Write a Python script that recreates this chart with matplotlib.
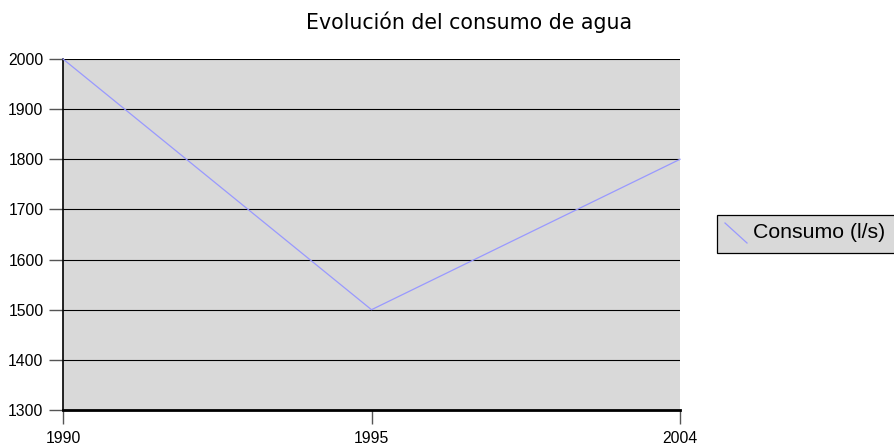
import matplotlib
matplotlib.use("Agg")
import matplotlib.pyplot as plt
from matplotlib.patches import Rectangle
from matplotlib.lines import Line2D

years = ["1990", "1995", "2004"]
consumo = [2000, 1500, 1800]
y_ticks = [1300, 1400, 1500, 1600, 1700, 1800, 1900, 2000]
title = "Evolución del consumo de agua"
series_label = "Consumo (l/s)"

fig = plt.figure(figsize=(8.94, 4.45), dpi=100)
ax = fig.add_axes([63/894, 35/445, (680-63)/894, (410-59)/445])
ax.set_facecolor("#D9D9D9")

x = list(range(len(years)))
ax.plot(x, consumo, color="#9999FF", lw=0.9, zorder=3, clip_on=False)

ax.set_xlim(0, len(years) - 1)
ax.set_ylim(1300, 2000)
ax.set_yticks(y_ticks)
ax.set_xticks(x)
ax.set_xticklabels(years)
ax.yaxis.grid(True, color="#000000", lw=0.8)
ax.set_axisbelow(True)

for s in ["top", "right"]:
    ax.spines[s].set_visible(False)
ax.spines["left"].set_linewidth(1.2)
ax.spines["bottom"].set_linewidth(2.0)
ax.tick_params(axis="y", length=10, width=1.0, color="#555555", labelsize=11.3, pad=4)
ax.tick_params(axis="x", length=10, width=1.0, color="#555555", labelsize=11.3, pad=5)
for lab in ax.get_xticklabels() + ax.get_yticklabels():
    lab.set_fontfamily("Liberation Sans")

fig.text(469/894, 1 - 22/445, title, ha="center", va="center",
         fontsize=14.8, family="DejaVu Sans")

# legend box
leg_x0, leg_y0, leg_x1, leg_y1 = 717, 215, 900, 253
fig.patches.append(Rectangle((leg_x0/894, 1 - leg_y1/445), (leg_x1-leg_x0)/894,
                             (leg_y1-leg_y0)/445, transform=fig.transFigure,
                             facecolor="#D9D9D9", edgecolor="#000000", lw=0.9))
fig.lines.append(Line2D([725/894, 747/894], [1 - 223/445, 1 - 243/445],
                        transform=fig.transFigure, color="#9999FF", lw=0.9))
fig.text(753/894, 1 - 233/445, series_label, ha="left", va="center",
         fontsize=15.3, family="Liberation Sans")

fig.savefig("out.png", dpi=100)
